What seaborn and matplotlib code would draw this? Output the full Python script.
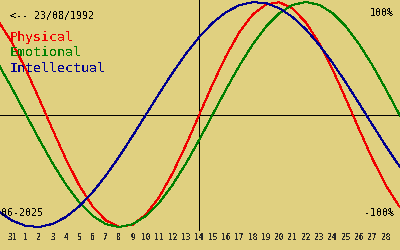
import matplotlib
matplotlib.use("Agg")
import matplotlib.pyplot as plt
import seaborn as sns
import pandas as pd

# day index: 0 = 31 May, 1..29 = 1..28 June (extra points beyond edges)
day_index = [-1, 0, 1, 2, 3, 4, 5, 6, 7, 8, 9, 10, 11, 12, 13, 14, 15,
             16, 17, 18, 19, 20, 21, 22, 23, 24, 25, 26, 27, 28, 29, 30]
tick_labels = ["31", "1", "2", "3", "4", "5", "6", "7", "8", "9", "10",
               "11", "12", "13", "14", "15", "16", "17", "18", "19", "20",
               "21", "22", "23", "24", "25", "26", "27", "28"]
tick_pos = [0, 1, 2, 3, 4, 5, 6, 7, 8, 9, 10, 11, 12, 13, 14, 15, 16, 17,
            18, 19, 20, 21, 22, 23, 24, 25, 26, 27, 28]
today_index = 14

physical = [0.817, 0.631, 0.398, 0.136, -0.136, -0.398, -0.631, -0.817,
            -0.942, -0.998, -0.979, -0.888, -0.731, -0.520, -0.270, 0.0,
            0.270, 0.520, 0.731, 0.888, 0.979, 0.998, 0.942, 0.817, 0.631,
            0.398, 0.136, -0.136, -0.398, -0.631, -0.817, -0.942]
emotional = [0.434, 0.223, 0.0, -0.223, -0.434, -0.623, -0.782, -0.901,
             -0.975, -1.0, -0.975, -0.901, -0.782, -0.623, -0.434, -0.223,
             0.0, 0.223, 0.434, 0.623, 0.782, 0.901, 0.975, 1.0, 0.975,
             0.901, 0.782, 0.623, 0.434, 0.223, 0.0, -0.223]
intellectual = [-0.866, -0.945, -0.990, -0.999, -0.972, -0.910, -0.815,
                -0.690, -0.541, -0.372, -0.189, 0.0, 0.189, 0.372, 0.541,
                0.690, 0.815, 0.910, 0.972, 0.999, 0.990, 0.945, 0.866,
                0.756, 0.618, 0.458, 0.282, 0.095, -0.095, -0.282, -0.458,
                -0.618]

series_names = ["Physical", "Emotional", "Intellectual"]
colors = {"Physical": "#f00000", "Emotional": "#008000", "Intellectual": "#000090"}
bg = "#e0d080"

df = pd.DataFrame({
    "day": day_index * 3,
    "value": physical + emotional + intellectual,
    "series": ["Physical"] * len(physical) + ["Emotional"] * len(emotional)
              + ["Intellectual"] * len(intellectual),
})

sns.set_style("white")
plt.rcParams["font.family"] = ["DejaVu Sans Mono"]
plt.rcParams["text.antialiased"] = False

fig = plt.figure(figsize=(4, 2.5), dpi=100, facecolor=bg)
ax = fig.add_axes([0, 0, 1, 1])
ax.set_facecolor(bg)

ax.axhline(0, color="black", lw=0.72, antialiased=False, zorder=1)
ax.axvline(today_index, ymin=0.08, ymax=1, color="black", lw=0.72,
           antialiased=False, zorder=1)

sns.lineplot(data=df, x="day", y="value", hue="series", palette=colors,
             hue_order=series_names, legend=False, ax=ax, linewidth=0.72,
             antialiased=False, zorder=3)

ax.set_xlim(-0.95, 29.05)
ax.set_ylim(-1.204, 1.018)

for s in ["top", "left", "right"]:
    ax.spines[s].set_visible(False)
ax.spines["bottom"].set_position(("data", -0.982))
ax.spines["bottom"].set_color("none")
ax.set_xticks(tick_pos)
ax.set_xticklabels(tick_labels, fontsize=5.7, fontweight="bold")
ax.tick_params(axis="x", direction="out", length=4.3, width=0.72,
               color="black", pad=1.5)
ax.set_yticks([])
ax.set_xlabel("")
ax.set_ylabel("")

def px(x, y):
    return x / 400, 1 - y / 250

fig.text(*px(10, 16), "<-- 23/08/1992", fontsize=7.1, color="black",
         ha="left", va="center")
for name, yy in zip(series_names, [38, 53, 68]):
    fig.text(*px(10, yy), name, fontsize=9.5, color=colors[name],
             ha="left", va="center")
fig.text(*px(394, 13), "100%", fontsize=7.1, color="black", ha="right", va="center")
fig.text(*px(394, 213), "-100%", fontsize=7.1, color="black", ha="right", va="center")
fig.text(*px(1, 213), "06-2025", fontsize=7.1, color="black", ha="left", va="center")

fig.savefig("out.png", dpi=100, facecolor=bg)
